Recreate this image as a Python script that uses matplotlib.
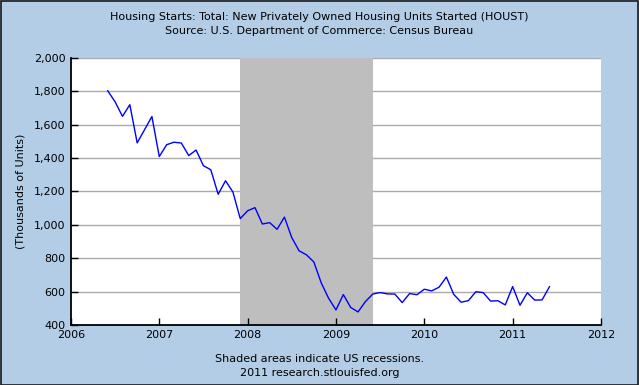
import numpy as np
import pandas as pd
from matplotlib import pyplot as plt
from matplotlib.patches import Rectangle


# monthly housing starts, thousands of units, Jun 2006 - Jun 2011
START = '2006-06-01'
HOUST = [1803, 1737, 1650, 1720, 1491, 1570, 1649,
         1409, 1480, 1495, 1490, 1415, 1448, 1354, 1330, 1183, 1264, 1197, 1037,
         1084, 1103, 1005, 1013, 973, 1046, 923, 844, 820, 777, 652, 560,
         490, 582, 505, 478, 540, 585, 594, 586, 585, 534, 588, 581,
         614, 604, 626, 687, 583, 536, 546, 599, 594, 543, 545, 520,
         630, 518, 593, 549, 550, 629]

RECESSION = ('2007-12-01', '2009-06-01')
Y_TICKS = [400, 600, 800, 1000, 1200, 1400, 1600, 1800, 2000]
X_TICKS = [2006, 2007, 2008, 2009, 2010, 2011, 2012]

BG = '#b4cde6'


def to_year(d):
	d = pd.Timestamp(d)
	return d.year + (d.month - 1) / 12.0


def main():
	dates = pd.date_range(START, periods=len(HOUST), freq='MS')
	x = [to_year(d) for d in dates]

	fig = plt.figure(figsize=(6.39, 3.85), dpi=100, facecolor=BG)
	ax = fig.add_axes([0.111, 0.156, 0.8295, 0.6935])
	ax.set_facecolor('white')

	ax.axvspan(to_year(RECESSION[0]), to_year(RECESSION[1]), color='#bebebe', lw=0, zorder=1)
	for y in Y_TICKS[1:]:
		ax.axhline(y, color='#aaaaaa', lw=1, zorder=0.5)

	ax.plot(x, HOUST, color='#0000ff', lw=1, zorder=3)

	ax.set_xlim(2006, 2012)
	ax.set_ylim(400, 2000)
	ax.set_xticks(X_TICKS)
	ax.set_xticklabels([str(t) for t in X_TICKS])
	ax.set_yticks(Y_TICKS)
	ax.set_yticklabels(['{:,}'.format(t) for t in Y_TICKS])
	ax.tick_params(direction='in', length=5, width=1, labelsize=8, colors='black', pad=4)

	ax.spines['top'].set_visible(False)
	ax.spines['right'].set_visible(False)
	ax.spines['left'].set_linewidth(1.3)
	ax.spines['bottom'].set_linewidth(1.3)

	ax.set_ylabel('(Thousands of Units)', fontsize=8, labelpad=6)

	fig.text(0.5, 0.955, 'Housing Starts: Total: New Privately Owned Housing Units Started (HOUST)',
		ha='center', va='center', fontsize=8)
	fig.text(0.5, 0.919, 'Source: U.S. Department of Commerce: Census Bureau',
		ha='center', va='center', fontsize=8)
	fig.text(0.5, 0.068, 'Shaded areas indicate US recessions.', ha='center', va='center', fontsize=8)
	fig.text(0.5, 0.031, '2011 research.stlouisfed.org', ha='center', va='center', fontsize=8)

	# dark frame round the whole picture
	fig.patches.append(Rectangle((0.001, 0.001), 0.997, 0.996, transform=fig.transFigure,
		fill=False, edgecolor='#1a1a1a', lw=1.2))

	fig.savefig('out.png', dpi=100, facecolor=BG)


main()
